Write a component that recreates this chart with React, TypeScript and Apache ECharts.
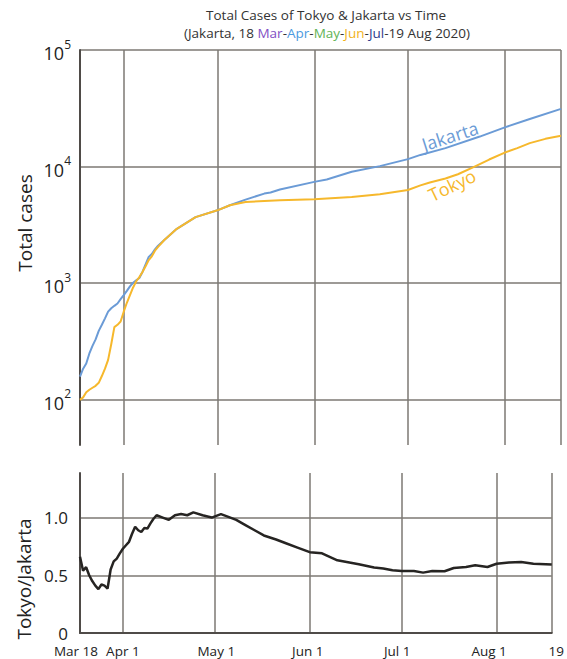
import React, { useEffect, useRef } from 'react';
import * as echarts from 'echarts';

// x positions are days since 18 Mar 2020
const tickDays = [0, 14, 44, 75, 105, 136, 154];
const tickLabels = ['Mar 18', 'Apr 1', 'May 1', 'Jun 1', 'Jul 1', 'Aug 1', '19'];
const logTicks = [100, 1000, 10000, 100000];
const ratioTicks = [0, 0.5, 1];

const jakartaDays = [0, 1, 2, 3, 4, 5, 6, 7, 8, 9, 10, 11, 12, 13, 14, 15, 16, 17, 18, 19, 20, 21, 22, 23, 24, 25, 27, 31, 37, 44, 48, 53, 59, 61, 64, 75, 79, 87, 96, 105, 109, 117, 128, 136, 144, 154];
const jakartaCases = [158, 185, 205, 250, 290, 330, 390, 440, 500, 570, 610, 640, 670, 730, 790, 860, 940, 1010, 1060, 1110, 1250, 1450, 1680, 1780, 1950, 2100, 2350, 2930, 3690, 4220, 4660, 5210, 5870, 6000, 6360, 7400, 7760, 9030, 10100, 11600, 12600, 14400, 18100, 21700, 25600, 31300];

const tokyoDays = [0, 1, 2, 3, 4, 5, 6, 7, 8, 9, 10, 11, 12, 13, 14, 15, 16, 17, 18, 19, 20, 21, 22, 23, 24, 25, 27, 31, 37, 44, 48, 53, 59, 64, 75, 87, 96, 105, 109, 112, 117, 121, 126, 131, 136, 140, 144, 149, 154];
const tokyoCases = [100, 105, 116, 122, 127, 132, 140, 160, 185, 220, 300, 420, 440, 470, 570, 680, 790, 920, 1040, 1130, 1250, 1400, 1580, 1700, 1900, 2050, 2350, 2930, 3690, 4220, 4660, 4970, 5070, 5140, 5250, 5500, 5800, 6300, 6900, 7300, 7900, 8600, 9900, 11500, 13200, 14400, 15900, 17300, 18400];

const ratioDays = [0, 1, 2, 3, 4, 5, 6, 7, 8, 9, 10, 11, 12, 13, 14, 15, 16, 17, 18, 19, 20, 21, 22, 23, 24, 25, 27, 29, 31, 33, 35, 37, 40, 43, 46, 48, 51, 54, 57, 60, 64, 67, 71, 75, 79, 84, 91, 96, 99, 102, 105, 109, 112, 115, 119, 122, 126, 129, 133, 136, 140, 144, 148, 154];
const ratioValues = [0.66, 0.54, 0.57, 0.5, 0.45, 0.41, 0.38, 0.42, 0.41, 0.385, 0.55, 0.62, 0.645, 0.69, 0.73, 0.76, 0.79, 0.86, 0.92, 0.89, 0.875, 0.91, 0.905, 0.95, 0.99, 1.02, 1.0, 0.98, 1.02, 1.03, 1.02, 1.045, 1.02, 1.0, 1.03, 1.01, 0.98, 0.935, 0.89, 0.845, 0.81, 0.78, 0.74, 0.7, 0.69, 0.63, 0.595, 0.567, 0.558, 0.543, 0.537, 0.537, 0.523, 0.537, 0.535, 0.563, 0.572, 0.587, 0.572, 0.6, 0.61, 0.615, 0.6, 0.593];

const FONT = '"Open Sans", "Noto Sans", sans-serif';
const BLUE = '#6b9bd6';
const GOLD = '#f6b82c';
const GRID = '#7d7873';
const AXIS = '#4f4b48';

const zip = (xs: number[], ys: number[]) => xs.map((x, i) => [x, ys[i]]);

// per-label nudges of the date labels (rich styles named l0..l6)
const labelPad: number[][] = [
  [0, 8, 0, 0],
  [0, 0, 0, 0],
  [0, 0, 0, 3],
  [0, 4, 0, 0],
  [0, 9, 0, 0],
  [0, 15, 0, 0],
  [0, 0, 0, 9],
];

export default function App() {
  const ref = useRef<HTMLDivElement>(null);
  useEffect(() => {
    document.body.style.margin = '0';
    const chart = echarts.init(ref.current!, null, { renderer: 'svg' });
    const splitLine = { show: true, lineStyle: { color: GRID, width: 1.5 } };
    const dateRich: any = {};
    labelPad.forEach((p, i) => {
      dateRich['l' + i] = { fontFamily: FONT, fontSize: 13.5, lineHeight: 14, color: '#222', padding: p };
    });
    const option: any = {
      animation: false,
      backgroundColor: '#ffffff',
      grid: [
        { left: 80, right: 6, top: 50, bottom: 214 },
        { left: 80, right: 6, top: 473, bottom: 26 },
      ],
      xAxis: [
        {
          type: 'value', gridIndex: 0, min: 0, max: 154,
          axisLine: { show: false },
          axisTick: { show: false, customValues: tickDays },
          axisLabel: { show: false, customValues: tickDays },
          splitLine,
        },
        {
          type: 'value', gridIndex: 1, min: 0, max: 154,
          axisLine: { show: true, lineStyle: { color: AXIS, width: 2 } },
          axisTick: { show: false, customValues: tickDays },
          axisLabel: {
            customValues: tickDays,
            showMinLabel: true,
            showMaxLabel: true,
            hideOverlap: false,
            formatter: (v: number) => {
              const i = tickDays.indexOf(Math.round(v));
              return i < 0 ? '' : `{l${i}|${tickLabels[i]}}`;
            },
            rich: dateRich,
            fontFamily: FONT, fontSize: 13.5, lineHeight: 14, color: '#222', margin: 11,
          },
          splitLine,
        },
      ],
      yAxis: [
        {
          type: 'log', logBase: 10, gridIndex: 0, min: 41, max: 100000,
          axisLine: { show: true, onZero: false, lineStyle: { color: AXIS, width: 2 } },
          axisTick: { show: false, customValues: logTicks },
          axisLabel: {
            customValues: logTicks,
            margin: 9,
            formatter: (v: number) => `{b|10}{s|${Math.round(Math.log10(v))}}`,
            rich: {
              b: { fontFamily: FONT, fontSize: 18, color: '#222', lineHeight: 24, verticalAlign: 'bottom' },
              s: { fontFamily: FONT, fontSize: 12, color: '#222', lineHeight: 12, verticalAlign: 'bottom', padding: [0, 0, 12, 0] },
            },
          },
          splitLine,
        },
        {
          type: 'value', gridIndex: 1, min: 0, max: 1.386,
          axisLine: { show: true, onZero: false, lineStyle: { color: AXIS, width: 2 } },
          axisTick: { show: false, customValues: ratioTicks },
          axisLabel: {
            customValues: ratioTicks,
            showMinLabel: true,
            margin: 12,
            formatter: (v: number) => (v === 0 ? '0' : v.toFixed(1)),
            fontFamily: FONT, fontSize: 17, lineHeight: 14, color: '#222',
          },
          splitLine,
        },
      ],
      series: [
        {
          name: 'Jakarta', type: 'line', xAxisIndex: 0, yAxisIndex: 0,
          data: zip(jakartaDays, jakartaCases), symbol: 'none',
          lineStyle: { color: BLUE, width: 2 },
        },
        {
          name: 'Tokyo', type: 'line', xAxisIndex: 0, yAxisIndex: 0,
          data: zip(tokyoDays, tokyoCases), symbol: 'none',
          lineStyle: { color: GOLD, width: 2 },
        },
        {
          name: 'Tokyo/Jakarta', type: 'line', xAxisIndex: 1, yAxisIndex: 1,
          data: zip(ratioDays, ratioValues), symbol: 'none',
          lineStyle: { color: '#262422', width: 2.5 },
        },
      ],
      graphic: [
        {
          type: 'text', x: 326, y: 15,
          style: { text: 'Total Cases of Tokyo & Jakarta vs Time', fontFamily: FONT, fontSize: 13.5, fill: '#333', align: 'center', verticalAlign: 'middle' },
        },
        {
          type: 'text', x: 327, y: 33,
          style: {
            text: '(Jakarta, 18 {mar|Mar}-{apr|Apr}-{may|May}-{jun|Jun}-{jul|Jul}-19 Aug 2020)',
            fontFamily: FONT, fontSize: 13.5, fill: '#333', align: 'center', verticalAlign: 'middle',
            rich: {
              mar: { fill: '#8250c4', fontFamily: FONT, fontSize: 13.5 },
              apr: { fill: '#4b9ae0', fontFamily: FONT, fontSize: 13.5 },
              may: { fill: '#62b356', fontFamily: FONT, fontSize: 13.5 },
              jun: { fill: '#f2b31a', fontFamily: FONT, fontSize: 13.5 },
              jul: { fill: '#2c3b8c', fontFamily: FONT, fontSize: 13.5 },
            },
          },
        },
        {
          type: 'text', x: 25, y: 223, rotation: Math.PI / 2,
          style: { text: 'Total cases', fontFamily: FONT, fontSize: 19, fill: '#222', align: 'center', verticalAlign: 'middle' },
        },
        {
          type: 'text', x: 24, y: 579, rotation: Math.PI / 2,
          style: { text: 'Tokyo/Jakarta', fontFamily: FONT, fontSize: 19, fill: '#222', align: 'center', verticalAlign: 'middle' },
        },
        {
          type: 'text', x: 450, y: 136, rotation: 0.31,
          style: { text: 'Jakarta', fontFamily: FONT, fontSize: 18, fill: BLUE, align: 'center', verticalAlign: 'middle' },
        },
        {
          type: 'text', x: 452, y: 185, rotation: 0.45,
          style: { text: 'Tokyo', fontFamily: FONT, fontSize: 18, fill: GOLD, align: 'center', verticalAlign: 'middle' },
        },
      ],
    };
    chart.setOption(option);
    return () => chart.dispose();
  }, []);
  return <div ref={ref} style={{ width: 567, height: 659 }} />;
}
